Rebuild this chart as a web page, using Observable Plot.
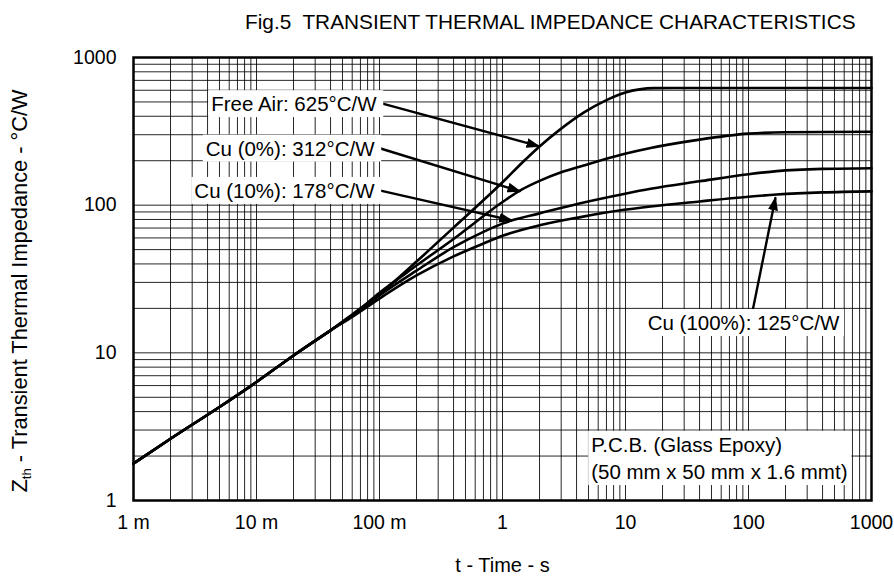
<!DOCTYPE html>
<html><head><meta charset="utf-8">
<script src="https://cdn.jsdelivr.net/npm/d3@7"></script>
<script src="https://cdn.jsdelivr.net/npm/@observablehq/plot@0.6"></script>
<style>
body{margin:0;background:#fff;font-family:"Liberation Sans",Arial,sans-serif;}
#title{height:44px;line-height:44px;padding-left:245px;font-size:20.8px;color:#000;white-space:nowrap;}
</style></head><body>
<div id="title">Fig.5&nbsp; TRANSIENT THERMAL IMPEDANCE CHARACTERISTICS</div>
<div id="chart"></div>
<script>
// ---- data ----
const xTicks = [0.001, 0.01, 0.1, 1, 10, 100, 1000];
const xTickLabels = ["1 m", "10 m", "100 m", "1", "10", "100", "1000"];
const yTicks = [1, 10, 100, 1000];
const yTickLabels = ["1", "10", "100", "1000"];

const seriesNames = ["Free Air", "Cu (0%)", "Cu (10%)", "Cu (100%)"];
const tCommon = [0.001, 0.002, 0.005, 0.01, 0.02, 0.04];
const zCommon = [1.78, 2.62, 4.3, 6.35, 9.6, 14.2];

const tFreeAir = [0.06, 0.1, 0.2, 0.4, 0.85, 1, 1.5, 2, 3, 4.6, 7, 10, 13, 17, 30, 1000];
const zFreeAir = [18.2, 25, 41.5, 70.5, 125.6, 143, 200, 250, 330, 425, 515, 580, 608, 620, 622, 622];
const tCu0 = [0.06, 0.1, 0.2, 0.4, 1, 1.35, 2, 3, 4.5, 9.7, 16, 40, 100, 200, 1000];
const zCu0 = [17.9, 25.5, 39, 59, 105, 124, 146, 167, 185, 222, 244, 278, 305, 312, 314];
const tCu10 = [0.06, 0.1, 0.2, 0.4, 0.7, 1, 1.2, 2, 4.3, 9.7, 16, 40, 100, 170, 400, 1000];
const zCu10 = [17.8, 24.5, 36, 52, 66, 75, 79, 88, 103, 119, 129, 145, 162, 170, 176, 178];
const tCu100 = [0.06, 0.1, 0.2, 0.4, 0.7, 1, 2, 4.3, 9.7, 16, 40, 100, 170, 400, 1000];
const zCu100 = [17.5, 23.3, 33.4, 45, 55, 62, 73, 83, 93, 98, 106, 114, 118, 122, 124];

const labelText = ["Free Air: 625°C/W", "Cu (0%): 312°C/W", "Cu (10%): 178°C/W", "Cu (100%): 125°C/W"];
const labelT = [0.106, 0.102, 0.102, 91];
const labelZ = [480, 240, 124, 15.8];
const arrowT1 = [0.106, 0.102, 0.102, 108];
const arrowZ1 = [487, 242, 125.6, 19.3];
const arrowT2 = [2.0, 1.4, 1.2, 166];
const arrowZ2 = [250, 124, 78.7, 113];
const noteText = "P.C.B. (Glass Epoxy)\n(50 mm x 50 mm x 1.6 mmt)";
const noteT = 5.26, noteZ = 1.98;
const xTitle = "t - Time - s";
const yTitleMain = "Z";
const yTitleSub = "th";
const yTitleRest = " - Transient Thermal Impedance - °C/W";

// ---- build tables ----
const seriesT = [tFreeAir, tCu0, tCu10, tCu100];
const seriesZ = [zFreeAir, zCu0, zCu10, zCu100];
const rows = [];
seriesNames.forEach((name, s) => {
  tCommon.forEach((t, i) => rows.push({series: name, t, z: zCommon[i]}));
  seriesT[s].forEach((t, i) => rows.push({series: name, t, z: seriesZ[s][i]}));
});
const labels = labelText.map((text, i) => ({text, t: labelT[i], z: labelZ[i]}));
const arrows = labelText.map((text, i) => ({t1: arrowT1[i], z1: arrowZ1[i], t2: arrowT2[i], z2: arrowZ2[i]}));
const gridXv = [];
for (let e = -3; e < 3; e++) for (let m = 1; m < 10; m++) gridXv.push(m * Math.pow(10, e));
gridXv.push(1000);
const gridYv = [];
for (let e = 0; e < 3; e++) for (let m = 1; m < 10; m++) gridYv.push(m * Math.pow(10, e));
gridYv.push(1000);

const FONT = '"Liberation Sans", Arial, sans-serif';
const plot = Plot.plot({
  width: 894, height: 537,
  marginLeft: 133, marginRight: 23, marginTop: 13, marginBottom: 81,
  style: {fontFamily: FONT, fontSize: "19.5px", background: "white", color: "black", overflow: "visible"},
  x: {type: "log", domain: [1e-3, 1e3]},
  y: {type: "log", domain: [1, 1000]},
  marks: [
    Plot.gridX(gridXv, {stroke: "black", strokeOpacity: 0.85, strokeWidth: 1}),
    Plot.gridY(gridYv, {stroke: "black", strokeOpacity: 0.85, strokeWidth: 1}),
    Plot.line(rows, {x: "t", y: "z", z: "series", stroke: "black", strokeWidth: 2.6, curve: "monotone-x"}),
    Plot.link(arrows, {x1: "t1", y1: "z1", x2: "t2", y2: "z2", stroke: "black", strokeWidth: 2.4}),
    Plot.text(labels.slice(0, 3), {x: "t", y: "z", text: "text", textAnchor: "end", dx: -6, fontSize: 20.5, fill: "black"}),
    Plot.text(labels.slice(3), {x: "t", y: "z", text: "text", textAnchor: "middle", fontSize: 20.5, fill: "black"}),
    Plot.text([noteText], {x: noteT, y: noteZ, text: d => d, textAnchor: "start", lineAnchor: "middle", lineHeight: 1.33, fontSize: 20.5, fill: "black"}),
    Plot.frame({stroke: "black", strokeWidth: 2.5}),
    Plot.axisX(xTicks, {tickSize: 0, tickPadding: 15, tickFormat: d => xTickLabels[xTicks.indexOf(d)], fontSize: 19.5, label: null}),
    Plot.axisY(yTicks, {tickSize: 0, tickPadding: 17, tickFormat: d => yTickLabels[yTicks.indexOf(d)], fontSize: 19.5, label: null}),
    Plot.text([xTitle], {text: d => d, frameAnchor: "bottom", dy: 65, lineAnchor: "middle", fontSize: 20, fill: "black"}),
    Plot.text([yTitleMain + yTitleSub + yTitleRest], {text: d => d, frameAnchor: "bottom-left", rotate: -90, textAnchor: "start", dx: -113, dy: -8, lineAnchor: "middle", fontSize: 20.5, fill: "black"})
  ]
});
document.getElementById("chart").append(plot);

// ---- post-processing: filled arrowheads, white label boxes, subscript ----
const svg = d3.select(plot);
const defs = svg.insert("defs", ":first-child");
defs.append("marker").attr("id", "ah").attr("markerUnits", "userSpaceOnUse")
  .attr("markerWidth", 14).attr("markerHeight", 10).attr("refX", 13).attr("refY", 5)
  .attr("orient", "auto").attr("viewBox", "0 0 14 10")
  .append("path").attr("d", "M0,0L14,5L0,10Z").attr("fill", "black");
svg.selectAll('g[aria-label="link"] path').attr("marker-end", "url(#ah)");

svg.selectAll("text").each(function () {
  const s = this.textContent;
  const isLabel = labelText.includes(s);
  const isNote = s.startsWith("P.C.B.");
  if (!isLabel && !isNote) return;
  const b = this.getBBox();
  const padR = (isLabel && labelText.indexOf(s) < 3) ? 6 : 4;
  const r = document.createElementNS("http://www.w3.org/2000/svg", "rect");
  r.setAttribute("x", b.x - 3);
  r.setAttribute("y", b.y - 2);
  r.setAttribute("width", b.width + 3 + padR);
  r.setAttribute("height", b.height + 4);
  r.setAttribute("fill", "white");
  const tr = this.getAttribute("transform");
  if (tr) r.setAttribute("transform", tr);
  this.parentNode.insertBefore(r, this);
});

svg.selectAll("text").filter(function () { return this.textContent === yTitleMain + yTitleSub + yTitleRest; }).each(function () {
  const t = d3.select(this);
  t.text(null);
  t.append("tspan").text(yTitleMain);
  t.append("tspan").text(yTitleSub).attr("font-size", "13px").attr("dy", 4);
  t.append("tspan").text(yTitleRest).attr("dy", -4);
  // fit the reference label length (about 404 px)
  const len = this.getComputedTextLength();
  if (len > 0 && Math.abs(len - 404) > 6) {
    const k = Math.max(0.75, Math.min(1.25, 404 / len));
    t.attr("font-size", (20.5 * k).toFixed(2) + "px");
  }
});
</script></body></html>
